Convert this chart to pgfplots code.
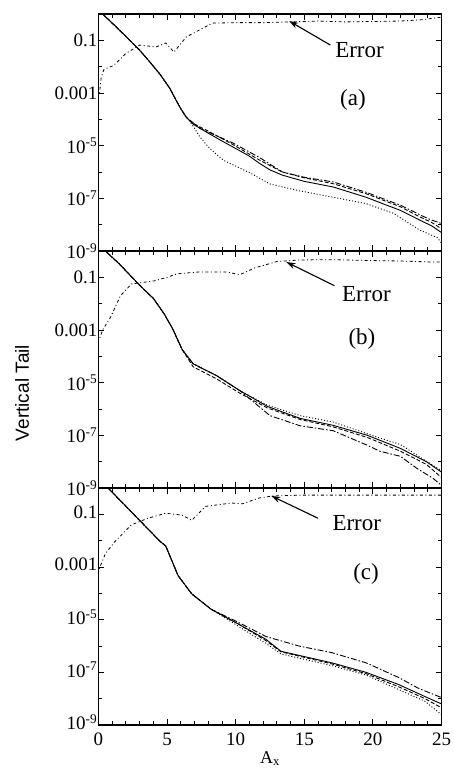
\documentclass[border=0pt]{standalone}
\usepackage{fontspec}
\setmainfont{Liberation Serif}
\setsansfont{Liberation Sans}
\usepackage{pgfplots}
\pgfplotsset{compat=1.18}
\usetikzlibrary{arrows.meta}

\pgfplotsset{
  every axis/.append style={
    scale only axis, width=343pt, height=237pt,
    xmin=0, xmax=25, ymin=1e-9, ymax=1,
    xtick={0,5,...,25}, minor x tick num=4,
    ytick={1e-9,1e-7,1e-5,1e-3,1e-1},
    yticklabels={10\textsuperscript{-9},10\textsuperscript{-7},10\textsuperscript{-5},0.001,0.1},
    minor ytick={1e-8,1e-6,1e-4,1e-2,1},
    axis line style={line width=1.2pt},
    major tick length=6pt, minor tick length=4pt,
    tick style={black, line width=0.9pt},
    tick label style={font=\fontsize{19}{20}\selectfont},
    yticklabel style={inner sep=1pt},
    xticklabel style={inner sep=1pt, yshift=-6.5pt},
  },
}
\tikzset{
  csol/.style={black, line width=0.9pt},
  cdsh/.style={black, line width=0.9pt, dash pattern=on 4pt off 2pt},
  cdsd/.style={black, line width=0.9pt, dash pattern=on 6pt off 2pt on 1.5pt off 2pt},
  cdot/.style={black, line width=0.9pt, dash pattern=on 1pt off 2pt},
  cerr/.style={black, line width=0.8pt, dash pattern=on 1pt off 2.5pt on 3pt off 2.5pt},
  cann/.style={font=\fontsize{23}{24}\selectfont},
}

\begin{document}
\begin{tikzpicture}
\useasboundingbox (-98.5pt,-46pt) rectangle (355.5pt,725pt);

% ---------------- panel (a) ----------------
\begin{semilogyaxis}[at={(0pt,474pt)}, anchor=south west, xticklabels={}]
\addplot[csol] coordinates {(0.3,1) (1,0.45) (2,0.14) (3,0.042) (3.7,0.016) (4.5,5e-3) (5.2,1.5e-3) (5.6,6e-4) (6,2.5e-4) (6.4,1.2e-4) (6.9,6.5e-5) (7.9,3.2e-5) (9,1.5e-5) (9.8,8.9e-6) (11,4e-6) (11.75,2.1e-6) (12.5,1.2e-6) (13.4,7.6e-7) (15,4.4e-7) (17.1,2.7e-7) (19.5,1.1e-7) (21,5.5e-8) (22,3.5e-8) (23.4,1.5e-8) (24.3,8.9e-9) (25,5e-9)};
\addplot[cdsh] coordinates {(0.3,1) (1,0.45) (2,0.14) (3,0.042) (3.7,0.016) (4.5,5e-3) (5.2,1.5e-3) (5.6,6e-4) (6,2.5e-4) (6.4,1.2e-4) (6.9,7e-5) (7.9,3.8e-5) (9.8,1.1e-5) (11.75,2.8e-6) (13.4,1e-6) (15,6e-7) (17.1,3.6e-7) (19.5,1.5e-7) (22,4.8e-8) (23.4,2e-8) (24.3,1.2e-8) (25,7e-9)};
\addplot[cdsd] coordinates {(0.3,1) (1,0.45) (2,0.14) (3,0.042) (3.7,0.016) (4.5,5e-3) (5.2,1.5e-3) (5.6,6e-4) (6,2.5e-4) (6.4,1.2e-4) (7.4,4.5e-5) (9.8,1.26e-5) (11.75,3.5e-6) (13.4,1e-6) (15,6.3e-7) (17.1,4.2e-7) (19.5,1.7e-7) (22,5.5e-8) (24,1.7e-8) (25,1.1e-8)};
\addplot[cdot] coordinates {(0.3,1) (1,0.45) (2,0.14) (3,0.042) (3.7,0.016) (4.5,5e-3) (5.2,1.5e-3) (5.6,6e-4) (6,2.5e-4) (6.4,1.2e-4) (6.9,5.5e-5) (7.4,2.1e-5) (8.1,7.9e-6) (9.1,2.8e-6) (11.1,8.9e-7) (12.5,3.5e-7) (14.5,2e-7) (17.1,1.1e-7) (19.5,6.3e-8) (21.5,2.7e-8) (23.4,6.3e-9) (24.7,3.2e-9) (25,2e-9)};
\addplot[cerr] coordinates {(0.05,1e-3) (0.1,1.3e-3) (0.2,4e-3) (0.4,7.9e-3) (1.1,0.011) (2,0.032) (3,0.066) (4.2,0.056) (4.9,0.079) (5.5,0.036) (6.4,0.135) (7.1,0.21) (8.3,0.45) (10,0.47) (12,0.47) (14,0.5) (16,0.54) (18,0.5) (20,0.52) (22,0.54) (23.5,0.6) (24.5,0.7) (25,0.76)};
\draw[-{Stealth[length=9pt,width=6pt]}, line width=1.1pt] (axis cs:16.9,0.066) -- (axis cs:13.9,0.54);
\node[cann, anchor=west] at (axis cs:17.0,0.043) {Error};
\node[cann] at (axis cs:18.55,5.4e-4) {(a)};
\end{semilogyaxis}

% ---------------- panel (b) ----------------
\begin{semilogyaxis}[at={(0pt,237pt)}, anchor=south west, xticklabels={}]
\addplot[csol] coordinates {(0.5,1) (1.5,0.33) (3,0.05) (4,0.0158) (4.8,4e-3) (5.4,1.12e-3) (6.1,1.8e-4) (6.9,5.2e-5) (8.6,1.86e-5) (10.3,5e-6) (12.3,1.26e-6) (14.7,4.4e-7) (17.1,2.4e-7) (19.6,1e-7) (22,3.2e-8) (23.9,1e-8) (25,4e-9)};
\addplot[cdsh] coordinates {(0.5,1) (1.5,0.33) (3,0.05) (4,0.0158) (4.8,4e-3) (5.4,1.12e-3) (6.1,1.8e-4) (6.9,4e-5) (8.6,1.4e-5) (10.3,4e-6) (12.3,1.1e-6) (14.7,4e-7) (17.1,2.1e-7) (19.6,8.3e-8) (22,2.5e-8) (23.9,7.9e-9) (25,2.5e-9)};
\addplot[cdot] coordinates {(0.5,1) (1.5,0.33) (3,0.05) (4,0.0158) (4.8,4e-3) (5.4,1.12e-3) (6.1,1.8e-4) (6.9,5.2e-5) (8.6,1.86e-5) (10.3,5e-6) (12.3,1.4e-6) (14.7,5.6e-7) (17.1,3.2e-7) (20.5,7.9e-8) (22,4.5e-8) (24.4,7.1e-9) (25,4.5e-9)};
\addplot[cdsd] coordinates {(0.5,1) (1.5,0.33) (3,0.05) (4,0.0158) (4.8,4e-3) (5.4,1.12e-3) (6.1,1.8e-4) (6.9,5.2e-5) (8.6,1.86e-5) (10.3,5e-6) (12.5,5.6e-7) (14.7,2.3e-7) (17.1,1.5e-7) (19.6,4.2e-8) (20.5,2.5e-8) (22,1.6e-8) (23.2,5.6e-9) (24.4,2.3e-9) (25,1.26e-9)};
\addplot[cerr] coordinates {(0.1,5e-4) (0.3,1e-3) (0.9,3.2e-3) (1.6,0.02) (2.4,0.056) (4.1,0.074) (5,0.1) (5.7,0.135) (7.2,0.158) (9.4,0.158) (10.3,0.126) (11.4,0.229) (13,0.398) (14.7,0.457) (17,0.468) (19.6,0.437) (22,0.417) (24.4,0.38) (25,0.38)};
\draw[-{Stealth[length=9pt,width=6pt]}, line width=1.1pt] (axis cs:17.2,0.048) -- (axis cs:13.7,0.38);
\node[cann, anchor=west] at (axis cs:17.5,0.023) {Error};
\node[cann] at (axis cs:19.2,4.7e-4) {(b)};
\end{semilogyaxis}

% ---------------- panel (c) ----------------
\begin{semilogyaxis}[at={(0pt,0pt)}, anchor=south west, xticklabels={0,5,10,15,20,25}, yticklabel style={yshift=2.5pt}]
\addplot[csol] coordinates {(0.7,1) (2.7,0.085) (3.6,0.028) (4.5,9.3e-3) (4.9,6.3e-3) (5.8,4.7e-4) (6.8,9.5e-5) (8.2,2.5e-5) (10.2,6.8e-6) (12.2,1.8e-6) (13.3,6.3e-7) (17,2.3e-7) (19.5,1e-7) (21.9,3.4e-8) (23.8,1.2e-8) (25,6.3e-9)};
\addplot[cdsh] coordinates {(0.7,1) (2.7,0.085) (3.6,0.028) (4.5,9.3e-3) (4.9,6.3e-3) (5.8,4.7e-4) (6.8,9.5e-5) (8.2,2.5e-5) (10.2,6.8e-6) (12.2,1.6e-6) (13.3,6e-7) (17,2.1e-7) (19.5,8.9e-8) (21.9,2.8e-8) (23.8,1e-8) (25,4.5e-9)};
\addplot[cdsd] coordinates {(0.7,1) (2.7,0.085) (3.6,0.028) (4.5,9.3e-3) (4.9,6.3e-3) (5.8,4.7e-4) (6.8,9.5e-5) (8.2,2.5e-5) (10.2,7.9e-6) (12.2,2.3e-6) (14.6,1e-6) (17,5.6e-7) (19.5,2.3e-7) (21.9,6.3e-8) (23.3,2.5e-8) (25,1.1e-8)};
\addplot[cdot] coordinates {(0.7,1) (2.7,0.085) (3.6,0.028) (4.5,9.3e-3) (4.9,6.3e-3) (5.8,4.7e-4) (6.8,9.5e-5) (8.2,2.5e-5) (10.2,5.6e-6) (12.2,1.26e-6) (13.3,5e-7) (17,1.8e-7) (19.5,7.9e-8) (21.9,2.2e-8) (23.8,7.9e-9) (25,2.5e-9)};
\addplot[cerr] coordinates {(0.05,8.5e-4) (0.5,3.2e-3) (1.2,9.3e-3) (2.4,0.04) (3.6,0.071) (4.9,0.11) (6.1,0.093) (6.8,0.059) (7.8,0.2) (9.7,0.269) (10.5,0.251) (11.7,0.417) (12.7,0.501) (15,0.537) (20,0.537) (25,0.537)};
\draw[-{Stealth[length=9pt,width=6pt]}, line width=1.1pt] (axis cs:16.0,0.071) -- (axis cs:12.6,0.5);
\node[cann, anchor=west] at (axis cs:16.8,0.046) {Error};
\node[cann] at (axis cs:19.5,5.5e-4) {(c)};
\end{semilogyaxis}

\node[rotate=90, font=\sffamily\fontsize{19}{20}\selectfont] at (-76.5pt,332pt) {Vertical Tail};
\node[anchor=north, inner sep=1pt, font=\fontsize{18}{19}\selectfont] at (171.5pt,-25pt) {A\textsubscript{x}};
\end{tikzpicture}
\end{document}
